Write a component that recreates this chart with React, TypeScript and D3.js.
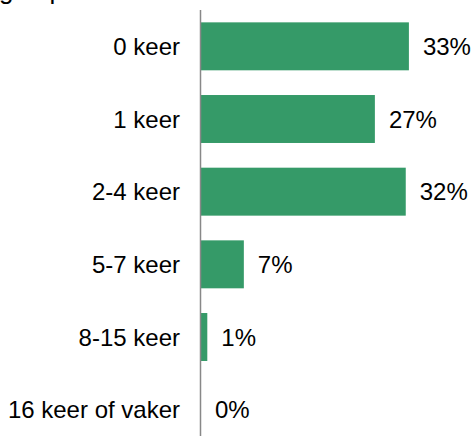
import React from "react";
import * as d3 from "d3";

const categories = ["0 keer", "1 keer", "2-4 keer", "5-7 keer", "8-15 keer", "16 keer of vaker"];
const values = [33.0, 27.6, 32.5, 6.8, 1.0, 0.0];
const valueLabels = ["33%", "27%", "32%", "7%", "1%", "0%"];
const titleText = "ge op";

const W = 474;
const H = 436;
const FONT = "Liberation Sans, Arial, sans-serif";

export default function App() {
  const axisX = 200.5;
  const x = d3.scaleLinear().domain([0, 10]).range([201, 264]);
  const y = d3
    .scaleBand<string>()
    .domain(categories)
    .range([10, 446])
    .paddingInner(0.34)
    .paddingOuter(0.17);

  return (
    <svg
      width={W}
      height={H}
      style={{ position: "absolute", left: 0, top: 0, display: "block", background: "#fff" }}
      fontFamily={FONT}
    >
      <text x={-1} y={-1} fontSize={26} fill="#000">
        {titleText}
      </text>
      {categories.map((c, i) => {
        const yy = y(c)!;
        const bw = y.bandwidth();
        const xEnd = x(values[i]);
        return (
          <g key={c}>
            {values[i] > 0 && (
              <rect x={x(0)} y={yy} width={xEnd - x(0)} height={bw} fill="#359a68" />
            )}
            <text
              x={180}
              y={yy + bw / 2}
              dy="0.36em"
              textAnchor="end"
              fontSize={24}
              fill="#000"
            >
              {c}
            </text>
            <text x={xEnd + 14} y={yy + bw / 2} dy="0.36em" fontSize={24} fill="#000">
              {valueLabels[i]}
            </text>
          </g>
        );
      })}
      <line x1={axisX} x2={axisX} y1={10} y2={H} stroke="#888" strokeWidth={1.5} />
    </svg>
  );
}
